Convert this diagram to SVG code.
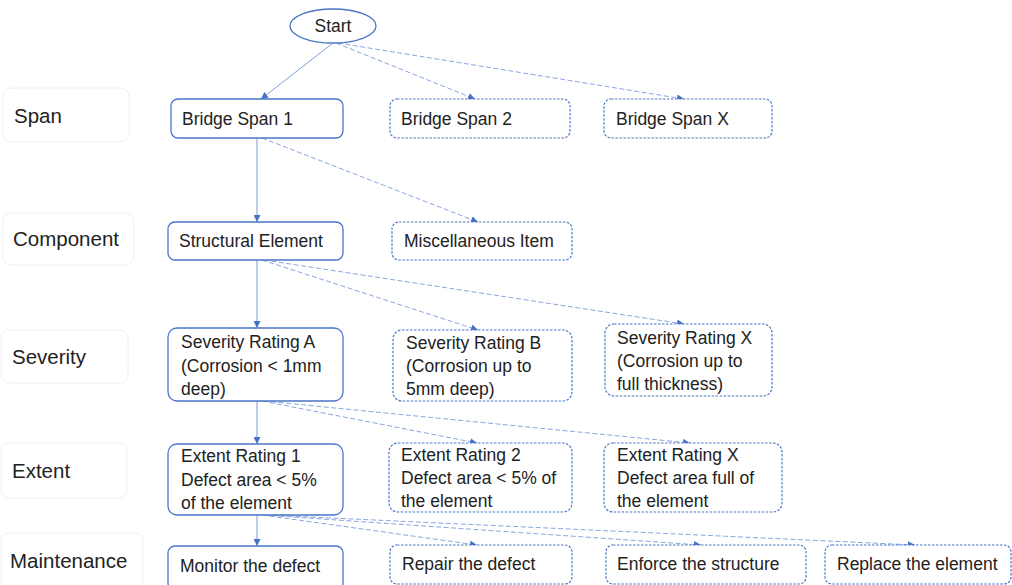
<svg xmlns="http://www.w3.org/2000/svg" width="1012" height="585" viewBox="0 0 1012 585">
<defs>
<style>
.lbl{fill:#fff;stroke:#f0f0f0;stroke-width:1}
.lt{font-family:"Liberation Sans",Arial,sans-serif;font-size:20.5px;fill:#222}
.n{fill:#fff;stroke:#4a76c8;stroke-width:1.3}
.d{fill:#fff;stroke:#4a76c8;stroke-width:1.2;stroke-dasharray:2.5 1.5}
.t{font-family:"Liberation Sans",Arial,sans-serif;font-size:17.5px;fill:#222}
.c{fill:none;stroke:#7c9bdb;stroke-width:1;marker-end:url(#ah)}
.cd{fill:none;stroke:#8aa6e0;stroke-width:1;stroke-dasharray:5 2.5;marker-end:url(#ah)}
</style>
<marker id="ah" viewBox="0 0 10 10" refX="10" refY="5" markerWidth="7" markerHeight="7" markerUnits="userSpaceOnUse" orient="auto">
<path d="M0,0 L10,5 L0,10 z" fill="#4472c4"/>
</marker>
</defs>
<rect width="1012" height="585" fill="#fff"/>

<g id="labels">
<g id="lbl-span"><rect class="lbl" x="3" y="88" width="126" height="54" rx="8"/><text class="lt" x="14" y="123">Span</text></g>
<g id="lbl-component"><rect class="lbl" x="3" y="213" width="131" height="52" rx="8"/><text class="lt" x="13" y="246">Component</text></g>
<g id="lbl-severity"><rect class="lbl" x="1" y="330" width="127" height="53" rx="8"/><text class="lt" x="12" y="364">Severity</text></g>
<g id="lbl-extent"><rect class="lbl" x="1" y="443" width="126" height="55" rx="8"/><text class="lt" x="12" y="478">Extent</text></g>
<g id="lbl-maintenance"><rect class="lbl" x="1" y="533" width="142" height="60" rx="8"/><text class="lt" x="10" y="568">Maintenance</text></g>
</g>

<g id="connectors">
<path class="c" d="M333,43 L261,99"/>
<path class="cd" d="M336,43 L475,99"/>
<path class="cd" d="M338,43 L684,99"/>
<path class="c" d="M257,138 L257,222"/>
<path class="cd" d="M262,138 L478,222"/>
<path class="c" d="M257,260 L257,328"/>
<path class="cd" d="M262,260 L478,330"/>
<path class="cd" d="M264,260 L684,324"/>
<path class="c" d="M257,401 L257,444"/>
<path class="cd" d="M262,401 L477,443"/>
<path class="cd" d="M264,401 L690,443"/>
<path class="c" d="M257,515 L257,546"/>
<path class="cd" d="M262,515 L477,545"/>
<path class="cd" d="M264,515 L701,545"/>
<path class="cd" d="M266,515 L915,545"/>
</g>

<g id="start"><ellipse cx="333" cy="26" rx="43" ry="17" fill="#fff" stroke="#4a76c8" stroke-width="1.3"/><text class="t" x="333" y="32" text-anchor="middle">Start</text></g>

<g id="span1"><rect class="n" x="171" y="99" width="172" height="39" rx="7"/><text class="t" x="182" y="125">Bridge Span 1</text></g>
<g id="span2"><rect class="d" x="390" y="99" width="180" height="39" rx="7"/><text class="t" x="401" y="125">Bridge Span 2</text></g>
<g id="spanx"><rect class="d" x="604" y="99" width="168" height="39" rx="7"/><text class="t" x="616" y="125">Bridge Span X</text></g>

<g id="structural"><rect class="n" x="168" y="222" width="175" height="38" rx="7"/><text class="t" x="179" y="247">Structural Element</text></g>
<g id="misc"><rect class="d" x="392" y="222" width="180" height="38" rx="7"/><text class="t" x="404" y="247">Miscellaneous Item</text></g>

<g id="sevA"><rect class="n" x="168" y="328" width="175" height="73" rx="9"/><text class="t"><tspan x="181" y="348">Severity Rating A</tspan><tspan x="181" y="372">(Corrosion &lt; 1mm</tspan><tspan x="181" y="395">deep)</tspan></text></g>
<g id="sevB"><rect class="d" x="393" y="330" width="179" height="71" rx="9"/><text class="t"><tspan x="406" y="349">Severity Rating B</tspan><tspan x="406" y="372">(Corrosion up to</tspan><tspan x="406" y="395">5mm deep)</tspan></text></g>
<g id="sevX"><rect class="d" x="605" y="324" width="167" height="72" rx="9"/><text class="t"><tspan x="617" y="344">Severity Rating X</tspan><tspan x="617" y="367">(Corrosion up to</tspan><tspan x="617" y="390">full thickness)</tspan></text></g>

<g id="ext1"><rect class="n" x="168" y="444" width="175" height="71" rx="9"/><text class="t"><tspan x="181" y="462">Extent Rating 1</tspan><tspan x="181" y="486">Defect area &lt; 5%</tspan><tspan x="181" y="509">of the element</tspan></text></g>
<g id="ext2"><rect class="d" x="389" y="443" width="183" height="69" rx="9"/><text class="t"><tspan x="401" y="461">Extent Rating 2</tspan><tspan x="401" y="484">Defect area &lt; 5% of</tspan><tspan x="401" y="507">the element</tspan></text></g>
<g id="extx"><rect class="d" x="604" y="443" width="178" height="69" rx="9"/><text class="t"><tspan x="617" y="461">Extent Rating X</tspan><tspan x="617" y="484">Defect area full of</tspan><tspan x="617" y="507">the element</tspan></text></g>

<g id="monitor"><rect class="n" x="168" y="546" width="175" height="44" rx="7"/><text class="t" x="180" y="572">Monitor the defect</text></g>
<g id="repair"><rect class="d" x="390" y="545" width="182" height="39" rx="7"/><text class="t" x="402" y="570">Repair the defect</text></g>
<g id="enforce"><rect class="d" x="606" y="545" width="200" height="39" rx="7"/><text class="t" x="617" y="570">Enforce the structure</text></g>
<g id="replace"><rect class="d" x="825" y="545" width="186" height="39" rx="7"/><text class="t" x="837" y="570">Replace the element</text></g>
</svg>
